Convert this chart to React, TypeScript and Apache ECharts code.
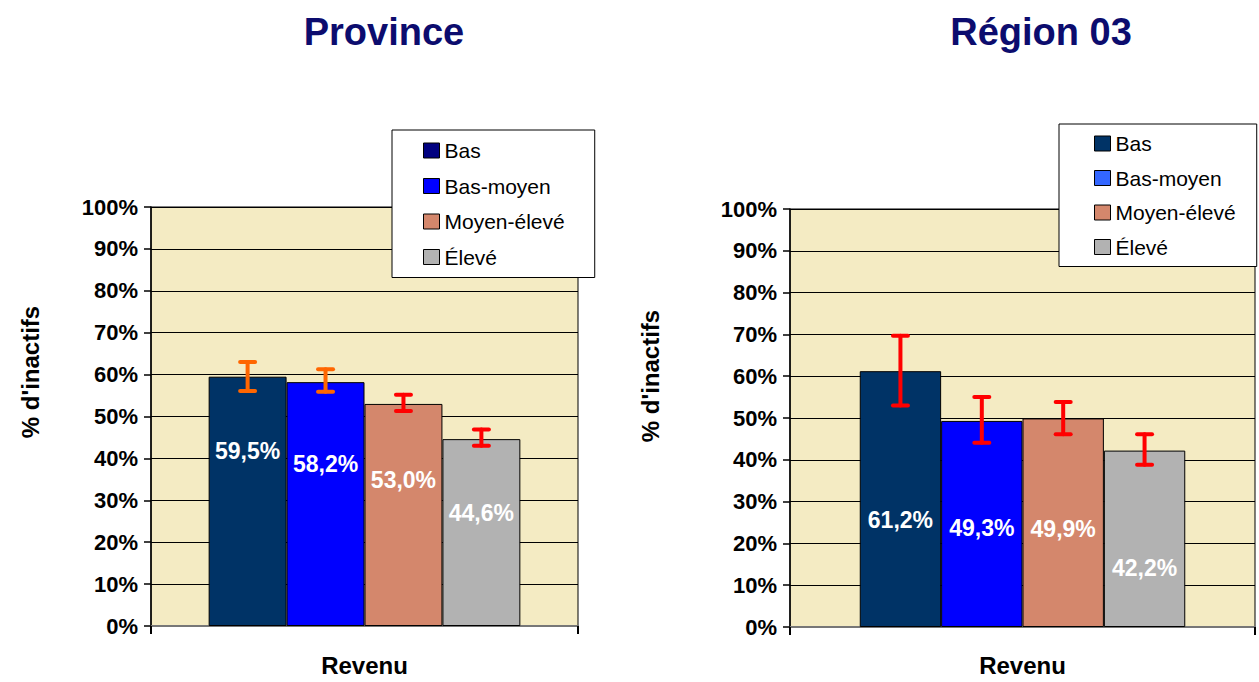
import React, { useEffect, useRef } from "react";
import * as echarts from "echarts";

const categories = ["Bas", "Bas-moyen", "Moyen-élevé", "Élevé"];
const provinceValues = [59.5, 58.2, 53.0, 44.6];
const provinceLow = [56.1, 55.9, 51.3, 43.0];
const provinceHigh = [63.0, 61.3, 55.2, 46.9];
const regionValues = [61.2, 49.3, 49.9, 42.2];
const regionLow = [53.0, 44.1, 46.1, 38.8];
const regionHigh = [69.7, 55.0, 53.8, 46.1];
const chartTitles = ["Province", "Région 03"];
const xTitle = "Revenu";
const yTitle = "% d'inactifs";

const FONT = "'Liberation Sans', Arial, sans-serif";
const barColors = ["#003366", "#0000FF", "#D4876C", "#B2B2B2"];
const legendColors = [
  ["#000080", "#0000FF", "#D4876C", "#B2B2B2"],
  ["#003366", "#3366FF", "#D4876C", "#B2B2B2"],
];
const errColors = [
  ["#FF6600", "#FF6600", "#FF0000", "#FF0000"],
  ["#FF0000", "#FF0000", "#FF0000", "#FF0000"],
];
const labelDy = [
  [74, 82, 76, 74],
  [149, 107, 111, 117],
];
const gapFrac = [0.27, 0.3];
const grids = [
  { left: 151, top: 207, width: 427, height: 421 },
  { left: 790, top: 209, width: 465, height: 424 },
];

export default function App() {
  const ref = useRef<HTMLDivElement>(null);
  useEffect(() => {
    document.body.style.margin = "0";
    const chart = echarts.init(ref.current!, undefined, { renderer: "svg" });
    const datasets = [
      { v: provinceValues, lo: provinceLow, hi: provinceHigh },
      { v: regionValues, lo: regionLow, hi: regionHigh },
    ];
    const series: any[] = [];
    datasets.forEach((d, c) => {
      categories.forEach((name, i) => {
        series.push({
          type: "bar",
          name,
          xAxisIndex: c,
          yAxisIndex: c,
          barGap: "0%",
          barCategoryGap: gapFrac[c] * 100 + "%",
          data: [d.v[i]],
          itemStyle: { color: barColors[i], borderColor: "#000", borderWidth: 1 },
          label: {
            show: true,
            position: ["50%", labelDy[c][i]],
            align: "center",
            verticalAlign: "middle",
            color: "#fff",
            fontWeight: "bold",
            fontSize: 23,
            fontFamily: FONT,
            formatter: (p: any) => p.value.toFixed(1).replace(".", ",") + "%",
          },
        });
      });
      series.push({
        type: "custom",
        name: "err" + c,
        xAxisIndex: c,
        yAxisIndex: c,
        z: 10,
        encode: { x: 0, y: [1, 2] },
        data: categories.map((_, i) => [0, d.lo[i], d.hi[i], i]),
        renderItem: (params: any, api: any) => {
          const band = api.size([1, 0])[0];
          const w = (band * (1 - gapFrac[c])) / 4;
          const idx = api.value(3);
          const x = api.coord([api.value(0), 0])[0] + (idx - 1.5) * w;
          const yLo = api.coord([0, api.value(1)])[1];
          const yHi = api.coord([0, api.value(2)])[1];
          const style = { stroke: errColors[c][idx], lineWidth: 4, lineCap: "round" };
          const cap = 7.5;
          return {
            type: "group",
            children: [
              { type: "line", shape: { x1: x, y1: yLo, x2: x, y2: yHi }, style },
              { type: "line", shape: { x1: x - cap, y1: yLo, x2: x + cap, y2: yLo }, style },
              { type: "line", shape: { x1: x - cap, y1: yHi, x2: x + cap, y2: yHi }, style },
            ],
          };
        },
      });
    });

    const legendCfg = (c: number, left: number, top: number, padding: number[], gap: number) => ({
      orient: "vertical",
      left,
      top,
      padding,
      itemGap: gap,
      itemWidth: 16,
      itemHeight: 15,
      icon: "rect",
      backgroundColor: "#fff",
      borderColor: "#000",
      borderWidth: 1,
      borderRadius: 0,
      itemStyle: { borderColor: "#000", borderWidth: 1 },
      textStyle: { fontSize: 21, color: "#000", fontFamily: FONT },
      data: categories.map((name, i) => ({ name, itemStyle: { color: legendColors[c][i] } })),
    });

    const textStyle = (size: number, fill: string) => ({
      fontSize: size,
      fontWeight: "bold",
      fill,
      fontFamily: FONT,
      textAlign: "center",
      textVerticalAlign: "middle",
    });

    chart.setOption({
      animation: false,
      grid: grids.map((g) => ({
        ...g,
        show: true,
        backgroundColor: "#F4EBC3",
        borderColor: "#000",
        borderWidth: 1,
      })),
      legend: [
        legendCfg(0, 392, 130, [10, 30, 10, 31], 14.5),
        legendCfg(1, 1059, 124, [9, 21, 9, 35], 13.5),
      ],
      xAxis: [0, 1].map((c) => ({
        type: "category",
        gridIndex: c,
        data: [""],
        name: xTitle,
        nameLocation: "middle",
        nameGap: c === 0 ? 27 : 26,
        nameTextStyle: { fontSize: 24, fontWeight: "bold", color: "#000", fontFamily: FONT },
        axisLine: { lineStyle: { color: "#777", width: 2 } },
        axisTick: { show: true, length: 8, lineStyle: { color: "#000", width: 2 } },
        axisLabel: { show: false },
      })),
      yAxis: [0, 1].map((c) => ({
        type: "value",
        gridIndex: c,
        min: 0,
        max: 100,
        interval: 10,
        axisLine: { show: true, lineStyle: { color: "#000", width: 1.5 } },
        axisTick: { show: true, length: 7, lineStyle: { color: "#000", width: 1.5 } },
        axisLabel: {
          formatter: "{value}%",
          fontSize: 22,
          fontWeight: "bold",
          color: "#000",
          fontFamily: FONT,
          margin: 13,
        },
        splitLine: { show: true, lineStyle: { color: "#000", width: 1 } },
      })),
      graphic: [
        { type: "text", x: 384, y: 32, style: { text: chartTitles[0], ...textStyle(38, "#0C0C6E") } },
        { type: "text", x: 1041, y: 32, style: { text: chartTitles[1], ...textStyle(38, "#0C0C6E") } },
        { type: "text", x: 30, y: 372, rotation: Math.PI / 2, style: { text: yTitle, ...textStyle(24, "#000") } },
        { type: "text", x: 650, y: 376, rotation: Math.PI / 2, style: { text: yTitle, ...textStyle(24, "#000") } },
      ],
      series,
    });
    return () => chart.dispose();
  }, []);
  return <div ref={ref} style={{ width: 1259, height: 682 }} />;
}
